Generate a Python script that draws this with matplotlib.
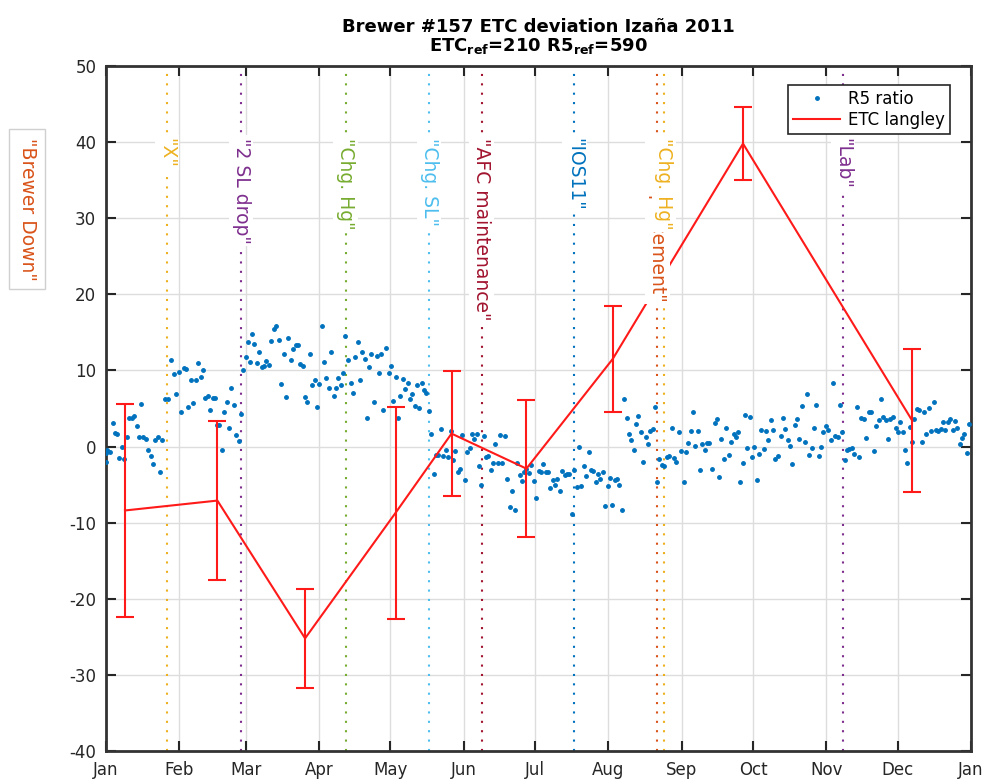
import matplotlib
matplotlib.use("Agg")
import matplotlib.pyplot as plt
import matplotlib.dates as mdates
from matplotlib.lines import Line2D
from datetime import datetime

plt.rcParams['font.family'] = ['DejaVu Sans']
plt.rcParams['axes.unicode_minus'] = False

# R5 ratio, day of year 2011 (0 = 1 Jan) and deviation in %
r5_day = [0.0, 0.2, 0.5, 1.7, 2.8, 3.8, 4.8, 5.6, 6.6, 7.6, 8.7, 9.8, 10.8, 11.8, 12.9, 14.0, 14.8, 15.7, 16.9, 17.8,
          18.9, 19.8, 20.8, 21.8, 22.8, 23.7, 25.0, 26.0, 27.6, 28.8, 29.7, 30.9, 31.5, 32.7, 33.8, 34.8, 35.7, 36.6, 37.8, 39.0,
          40.0, 41.0, 41.9, 42.9, 43.9, 45.0, 46.0, 47.0, 47.8, 49.0, 49.9, 50.9, 51.9, 52.9, 53.9, 54.8, 56.0, 56.9, 57.7, 58.9,
          59.9, 60.9, 61.8, 62.6, 63.6, 64.7, 65.7, 66.7, 67.7, 68.8, 69.8, 70.8, 71.8, 72.9, 73.9, 74.9, 76.0, 77.0, 78.0, 79.0,
          80.0, 81.1, 82.0, 83.0, 84.0, 85.0, 86.0, 87.0, 88.0, 89.0, 90.0, 91.0, 92.0, 93.0, 94.0, 95.0, 96.0, 97.0, 98.0, 99.0,
          100.0, 101.0, 102.0, 103.3, 104.2, 105.2, 106.2, 107.2, 108.2, 109.1, 110.0, 111.0, 112.0, 113.2, 114.2, 115.1, 116.1, 117.0, 118.2, 119.2,
          120.2, 121.2, 122.2, 123.2, 124.2, 125.2, 126.3, 127.3, 128.3, 129.3, 130.3, 131.2, 132.2, 133.2, 134.2, 135.2, 136.2, 137.2, 138.2, 139.2,
          140.2, 141.3, 142.3, 143.3, 144.4, 145.4, 146.4, 147.4, 148.4, 149.4, 150.4, 151.4, 152.4, 153.4, 154.3, 155.3, 156.4, 157.3, 158.3, 159.3,
          160.3, 161.3, 162.4, 163.3, 164.3, 165.3, 166.3, 167.3, 168.4, 169.4, 170.4, 171.3, 172.5, 173.5, 174.5, 175.4, 176.4, 177.4, 178.4, 179.4,
          180.4, 181.5, 182.5, 183.5, 184.5, 185.5, 186.5, 187.5, 188.5, 189.5, 190.5, 191.5, 192.6, 193.6, 194.5, 195.5, 196.8, 197.6, 198.6, 199.6,
          200.6, 201.6, 202.5, 203.7, 204.6, 205.6, 206.6, 207.6, 208.6, 209.6, 210.7, 211.7, 212.7, 213.6, 214.6, 215.6, 216.6, 217.6, 218.7, 219.7,
          220.6, 221.6, 222.6, 223.6, 224.6, 225.7, 226.6, 227.7, 228.6, 229.7, 230.7, 231.8, 232.6, 233.5, 234.5, 235.4, 236.6, 237.6, 238.7, 239.7,
          240.6, 241.8, 242.7, 243.7, 244.7, 245.7, 246.7, 247.8, 248.7, 249.7, 250.6, 251.6, 252.6, 253.6, 254.6, 255.8, 256.8, 257.7, 258.7, 259.7,
          260.7, 261.7, 262.8, 263.8, 264.8, 265.7, 266.7, 267.6, 268.6, 269.6, 270.6, 271.6, 272.6, 273.6, 274.6, 275.6, 276.5, 277.5, 278.5, 279.5,
          280.5, 281.5, 282.5, 283.6, 284.7, 285.7, 286.7, 287.6, 288.6, 289.6, 290.6, 291.6, 292.6, 293.7, 294.8, 295.8, 296.8, 297.8, 298.8, 299.7,
          300.7, 301.7, 302.7, 303.7, 304.7, 305.8, 306.8, 307.8, 308.7, 309.7, 310.7, 311.7, 312.7, 313.7, 314.7, 315.8, 316.8, 317.8, 318.7, 319.7,
          320.8, 321.8, 323.0, 324.0, 325.0, 326.0, 327.0, 328.0, 329.0, 330.0, 331.0, 332.0, 333.2, 334.2, 335.2, 336.2, 337.2, 338.1, 339.1, 340.1,
          341.0, 342.2, 343.2, 344.2, 345.2, 346.2, 347.1, 348.2, 349.2, 350.2, 351.2, 352.2, 353.2, 354.2, 355.1, 356.1, 357.3, 358.2, 359.2, 360.2,
          361.1, 362.1, 363.2, 364.1]
r5_val = [-2.0, -0.9, -0.5, -0.7, 3.1, 1.8, 1.7, -1.5, 0.0, -1.6, 1.3, 3.8, 3.8, 4.0, 2.7, 1.3, 5.6, 1.3, 1.0, -0.5,
          -1.2, -2.3, 0.9, 1.3, -3.4, 0.8, 6.3, 6.2, 11.4, 9.5, 6.9, 9.8, 4.5, 10.3, 10.2, 5.2, 8.8, 5.7, 8.8, 11.0,
          9.2, 10.0, 6.4, 6.6, 4.8, 6.4, 6.4, 2.8, 2.8, -0.4, 4.5, 5.8, 2.5, 7.7, 5.5, 1.5, 0.7, 4.3, 10.1, 11.7,
          13.7, 11.1, 14.8, 13.5, 11.0, 12.4, 10.4, 10.6, 11.3, 10.7, 13.9, 15.5, 15.9, 14.0, 8.2, 12.1, 6.5, 14.2, 11.4, 12.8,
          13.4, 13.3, 10.9, 10.6, 6.5, 5.9, 12.2, 8.1, 8.8, 5.2, 8.2, 15.8, 11.1, 9.0, 7.7, 12.4, 6.6, 7.7, 9.0, 8.1,
          9.7, 14.5, 11.4, 8.3, 7.1, 11.7, 13.7, 8.8, 12.4, 11.5, 3.8, 10.5, 12.1, 5.9, 11.9, 9.6, 12.2, 4.8, 13.0, 9.6,
          10.6, 6.0, 9.1, 3.8, 6.7, 8.9, 7.5, 8.4, 6.3, 6.9, 5.3, 8.1, 5.0, 8.4, 7.4, 7.1, 4.7, 1.7, -3.6, -1.1,
          -1.1, 2.3, -1.2, -0.4, -1.4, 2.0, -1.8, -0.6, -3.3, -2.9, 1.5, -4.4, -0.7, -0.2, 1.6, 1.0, 1.6, -2.5, -5.0, 1.4,
          -1.4, -1.3, -3.1, -2.1, 0.3, -2.1, 1.5, -2.1, 1.4, -4.2, -7.9, -5.8, -8.3, -2.2, -3.8, -4.5, -3.4, -3.0, -3.5, -2.4,
          -4.5, -6.7, -3.2, -3.3, -2.3, -3.4, -3.4, -5.4, -4.4, -5.0, -4.3, -5.9, -3.2, -3.7, -3.6, -3.6, -8.8, -3.1, -5.3, 0.0,
          -5.2, -2.6, -3.9, -0.7, -3.1, -3.2, -4.6, -3.6, -4.2, -3.3, -7.8, -5.2, -4.1, -7.7, -4.4, -4.3, -5.0, -8.4, 6.3, 3.8,
          1.7, 0.8, -0.4, 2.9, 4.0, 1.9, -2.0, 1.3, 0.3, 2.0, 2.3, 5.2, -4.6, -1.6, -2.4, -2.6, -1.4, -1.3, 2.4, -1.5,
          -2.0, 1.9, -0.6, -4.7, -0.7, 0.4, 2.1, 4.5, 0.1, 2.1, -3.1, 0.3, -0.4, 0.4, 0.5, -2.9, 3.1, 3.6, -4.0, 1.0,
          -1.6, 2.4, -1.1, 0.6, 1.6, 1.2, 1.9, -4.6, -2.1, 4.2, -0.2, 3.9, -1.4, 0.0, -4.4, -1.0, 2.2, -0.3, 2.1, 0.8,
          3.5, 2.2, -1.7, -1.2, 1.4, 3.7, 2.3, 0.8, 0.1, -2.3, 2.8, 3.6, 1.0, 5.3, 0.6, 6.9, -1.1, -0.2, 2.4, 5.4,
          -1.3, 0.0, 1.9, 2.7, 2.2, 0.9, 8.4, 1.4, 1.3, 5.4, 1.9, -1.8, -0.5, -0.3, -0.2, -1.0, 5.2, -1.4, 3.8, 3.6,
          1.1, 4.5, 4.5, -0.6, 2.7, 3.5, 6.3, 3.9, 3.5, 1.0, 3.6, 3.9, 2.5, 1.9, 3.2, 1.9, -0.4, -2.2, 2.6, 0.6,
          3.6, 4.9, 4.8, 0.6, 4.5, 1.7, 5.1, 2.1, 5.9, 2.2, 2.1, 2.3, 3.2, 2.2, 3.2, 3.6, 2.2, 3.4, 2.4, 0.3,
          1.1, 1.7, -0.8, 3.0]

# ETC langley results with error
etc_day = [8.0, 47.0, 84.0, 122.2, 145.8, 177.4, 213.8, 268.8, 340.2]
etc_val = [-8.4, -7.1, -25.2, -8.7, 1.7, -2.9, 11.5, 39.8, 3.4]
etc_err = [14.0, 10.4, 6.5, 13.9, 8.2, 9.0, 7.0, 4.8, 9.4]

# events: day of year, label, colour
ev_day = [-33.3, 25.8, 57.0, 101.1, 136.3, 158.5, 197.6, 232.6, 235.4, 311.0]
ev_txt = ['"Brewer Down"', '"X"', '"2 SL drop"', '"Chg. Hg"', '"Chg. SL"', '"AFC maintenance"',
          '"IOS11"', '"SL replacement"', '"Chg. Hg"', '"Lab"']
ev_col = ['#D95319', '#EDB120', '#7E2F8E', '#77AC30', '#4DBEEE', '#A2142F',
          '#0072BD', '#D95319', '#EDB120', '#7E2F8E']

base = mdates.date2num(datetime(2011, 1, 1))

fig = plt.figure(figsize=(9.89, 7.8), dpi=100)
ax = fig.add_axes([0.1072, 0.0372, 0.8746, 0.8782])

ax.plot([base + d for d in r5_day], r5_val, linestyle='none', marker='.', ms=5,
        color='#0072BD', zorder=3)
ax.errorbar([base + d for d in etc_day], etc_val, yerr=etc_err, color='#FF1A1A', lw=1.5,
            elinewidth=1.5, capsize=6.5, capthick=1.5, zorder=4)

for i in range(len(ev_day)):
    x = base + ev_day[i]
    ax.axvline(x, color=ev_col[i], lw=1.5, dashes=(1, 3.5), zorder=2)
    bb = dict(boxstyle='square,pad=0.15', facecolor='white', edgecolor='none')
    if i == 0:
        bb = dict(boxstyle='square,pad=0.45', facecolor='white', edgecolor='#d0d0d0')
    ax.text(x, 40.6, ev_txt[i], rotation=270, ha='center', va='top', color=ev_col[i],
            fontsize=13.5, bbox=bb, zorder=6, clip_on=False)

ax.set_xlim(base, base + 365)
ax.set_ylim(-40, 50)
ax.set_yticks(range(-40, 51, 10))
ax.xaxis.set_major_locator(mdates.MonthLocator())
ax.xaxis.set_major_formatter(mdates.DateFormatter('%b'))
ax.grid(True, color='#dddddd', lw=1)
ax.set_axisbelow(True)
ax.tick_params(direction='in', length=7, width=1.5, top=True, right=True,
               labelsize=12, colors='#262626', pad=7)
for s in ax.spines.values():
    s.set_linewidth(2)
    s.set_color('#333333')

ax.set_title('Brewer #157 ETC deviation Izaña 2011\n'
             r'ETC$_{\mathregular{ref}}$=210 R5$_{\mathregular{ref}}$=590',
             fontsize=13, fontweight='bold', linespacing=1.0, pad=11)

handles = [Line2D([], [], linestyle='none', marker='.', ms=5, color='#0072BD'),
           Line2D([], [], color='#FF1A1A', lw=1.5)]
leg = ax.legend(handles, ['R5 ratio', 'ETC langley'], loc='upper right',
                bbox_to_anchor=(0.976, 0.972), borderaxespad=0, fontsize=12,
                fancybox=False, framealpha=1, edgecolor='#262626', handlelength=2.8,
                borderpad=0.3, labelspacing=0.15, handletextpad=0.5)
leg.get_frame().set_linewidth(1.2)
leg.set_zorder(10)

fig.savefig('out.png', dpi=100)
